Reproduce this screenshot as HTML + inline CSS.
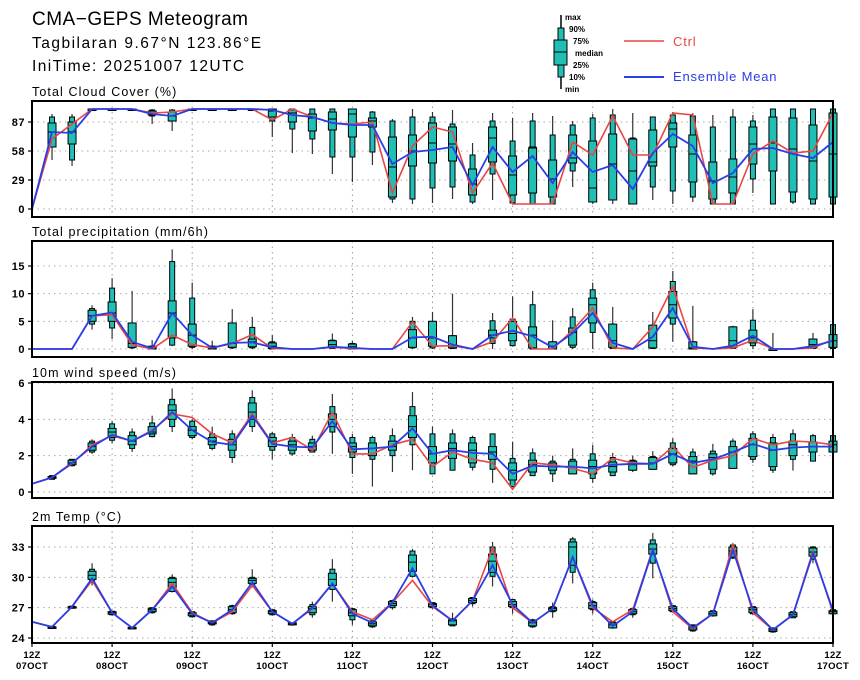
<!DOCTYPE html>
<html><head><meta charset="utf-8"><style>
html,body{margin:0;padding:0;background:#fff;}
svg{display:block;font-family:"Liberation Sans","DejaVu Sans",sans-serif;}
</style></head><body>
<svg id="chart" width="860" height="680" viewBox="0 0 860 680" xmlns="http://www.w3.org/2000/svg">
<g>
<text x="32" y="25" font-size="19" letter-spacing="0.5">CMA−GEPS Meteogram</text>
<text x="32" y="48" font-size="15.5" letter-spacing="1.5">Tagbilaran 9.67°N 123.86°E</text>
<text x="32" y="71" font-size="15.5" letter-spacing="1.4">IniTime: 20251007 12UTC</text>
</g>
<g font-size="8" font-weight="bold">
<line x1="561" y1="15" x2="561" y2="89" stroke="#000" stroke-width="1.5"/>
<rect x="558" y="28" width="6" height="49" fill="#1fbfb5" stroke="#000"/>
<rect x="554" y="40" width="13" height="25" fill="#1fbfb5" stroke="#000"/>
<line x1="554" y1="52" x2="567" y2="52" stroke="#000"/>
<text x="565" y="20">max</text><text x="569" y="32">90%</text><text x="573" y="44">75%</text>
<text x="575" y="56">median</text><text x="573" y="68">25%</text><text x="569" y="80">10%</text><text x="565" y="92">min</text>
<line x1="624" y1="41" x2="664" y2="41" stroke="#e84545" stroke-width="1.5"/>
<text x="673" y="46" font-size="13" font-weight="normal" fill="#e84545" letter-spacing="0.8">Ctrl</text>
<line x1="624" y1="77" x2="664" y2="77" stroke="#2a3ee8" stroke-width="2"/>
<text x="673" y="81" font-size="13" font-weight="normal" fill="#2a3ee8" letter-spacing="0.8">Ensemble Mean</text>
</g>
</svg>
<script>
// ---- Total cloud cover ----
const cc_max=[null,95,95,100,100,100,100,100,100,100,100,100,100,100,100,100,100,98,90,100,97,99,66,96,91,96,93,88,95,100,96,92,97,96,94,100,94,100,100,100,100];
const cc_p90=[null,92,92,100,100,100,99,99,100,100,100,100,100,100,100,100,100,97,88,92,92,85,54,88,68,88,74,84,91,94,71,92,94,93,82,92,88,100,100,100,100];
const cc_p75=[null,86,87,100,100,100,98,97,100,100,100,100,100,99,95,97,100,91,72,74,86,82,40,82,53,61,49,74,68,75,70,79,86,74,47,50,82,92,91,84,96];
const cc_med=[null,77,77,100,100,100,96,93,100,100,100,100,98,96,91,90,95,88,42,58,66,65,25,71,34,62,30,51,21,45,38,47,80,55,28,32,65,66,60,48,55];
const cc_p25=[null,62,65,100,100,100,94,88,100,100,100,100,92,87,78,79,72,82,12,43,46,48,14,47,14,16,12,46,7,9,5,43,62,27,10,16,45,38,17,10,12];
const cc_p10=[null,62,49,100,100,100,93,88,100,100,100,100,88,80,70,52,52,57,10,10,21,22,7,35,6,5,5,38,7,9,5,22,18,12,5,5,30,5,7,5,5];
const cc_min=[null,49,43,100,100,100,85,78,99,100,100,98,72,56,55,35,27,44,6,5,6,10,5,9,6,5,5,22,5,5,5,9,5,7,5,5,16,5,5,5,5];
const cc_ctrl=[0,70,85,100,100,100,96,97,100,100,100,100,89,100,92,86,85,87,16,63,82,77,16,46,5,5,5,67,54,93,54,54,96,94,5,5,55,68,56,58,96];
const cc_mean=[0,77,76,100,100,100,95,93,100,100,100,100,99,94,92,86,84,84,45,57,59,62,24,62,37,53,26,57,37,44,20,56,75,63,26,36,60,61,55,51,67];
const cc_ticks=[0,29,58,87];
// ---- Total precipitation ----
const pr_max=[null,null,null,7.9,12.8,10.5,1.6,18,12,1.5,7.2,5.8,2.5,null,null,2.8,1.4,null,null,5.8,6.7,10,null,6.5,9.5,10.5,5.2,7.4,12,7.6,null,6.7,14.1,7.8,null,4.2,7.2,2.9,null,2.9,4.7];
const pr_p90=[null,null,null,7.3,11,4.7,0.5,15.8,9.2,0.5,4.7,3.9,1.3,null,null,1.6,1,null,null,5,5,2.4,null,5.1,5.4,8,1.3,5.8,10.7,4.5,null,4.3,12.2,1.3,null,4,5.2,0,null,1.8,4.4];
const pr_p75=[null,null,null,7,8.5,4.7,0.5,8.7,4.5,0.5,4.7,1.8,1.1,null,null,1.5,0.9,null,null,3.5,5,2.4,null,3.4,5,4,1.3,3.8,9.2,4.5,null,4.3,10.4,1.3,null,4,3.4,0,null,1.8,2.6];
const pr_med=[null,null,null,6,6.5,1,0.2,6.5,2.5,0.2,1,1.3,0.5,null,null,0.8,0.4,null,null,2,2,0.5,null,2.5,2.8,2.5,0.5,3,8,1.5,null,1.5,8,0.2,null,1.5,2,0,null,0.8,1.5];
const pr_p25=[null,null,null,5,5,0.3,0,2,0.5,0,0.3,0.4,0.1,null,null,0.3,0,null,null,0.3,0.5,0.2,null,2,1.5,0.2,0,0.7,4.7,0.3,null,0.2,5.6,0,null,0.3,1.1,0,null,0.2,0.3];
const pr_p10=[null,null,null,4.5,3.8,0.2,0,0.7,0.3,0,0.2,0.2,0,null,null,0.1,0,null,null,0.2,0.2,0.1,null,1,0.6,0,0,0.3,3,0.1,null,0.1,4.5,0,null,0.1,0.6,0,null,0.1,0.1];
const pr_min=[null,null,null,3.5,1.8,0,0,0.5,0,0,0,0,0,null,null,0,0,null,null,0,0,0,null,0,0.5,0,0,0,0,0,null,0,1.3,0,null,0,0,0,null,0,0];
const pr_ctrl=[0,0,0,6,6.2,0.8,0,2.5,0.8,0.2,1,2.6,0.1,0,0,0.3,0.1,0,0,4.9,0.5,0.6,0,1.3,5.6,0,0,3.4,7.4,0.2,0,4,11.3,0.2,0,0.2,1.6,0,0,0.2,1.7];
const pr_mean=[0,0,0,6,6.6,1.3,0.1,6.5,2.5,0.2,1.1,1.2,0.3,0,0,0.4,0.2,0,0,2.1,2.2,0.8,0,2.5,3.3,2.3,0.3,2.9,6.5,1.1,0,2.2,7.4,0.4,0,0.6,2.4,0,0,0.5,1.5];
const pr_ticks=[0,5,10,15];
// ---- 10m wind speed ----
const wd_max=[null,0.9,1.8,2.9,3.9,3.5,4.2,5.7,4.0,3.6,3.4,5.6,3.3,3.2,3.1,5.4,3.2,3.1,3.5,5.5,3.6,3.45,3.1,3.2,2.77,2.4,2.0,2.4,2.6,2.15,2.0,2.25,2.95,2.4,2.65,2.95,3.35,3.2,3.45,3.2,3.3];
const wd_p90=[null,0.9,1.8,2.8,3.75,3.3,3.8,5.1,3.9,3.2,3.2,5.2,3.2,3.0,2.9,4.7,3.0,3.0,3.1,4.7,3.2,3.2,3.0,3.2,1.85,2.15,1.7,1.8,2.1,1.9,1.75,1.95,2.7,2.2,2.25,2.8,3.2,3.0,3.2,3.1,3.1];
const wd_p75=[null,0.85,1.75,2.7,3.5,3.1,3.6,4.8,3.6,3.0,2.9,4.9,3.0,2.8,2.7,4.3,2.7,2.7,2.8,4.2,2.5,2.7,2.7,2.5,1.6,1.75,1.6,1.7,1.75,1.65,1.7,1.9,2.4,1.95,2.1,2.5,2.95,2.7,2.8,2.75,2.8];
const wd_med=[null,0.8,1.6,2.5,3.3,2.8,3.3,4.5,3.4,2.8,2.6,4.4,2.8,2.6,2.5,4.0,2.5,2.4,2.5,3.6,2.1,2.4,2.3,2.2,1.2,1.5,1.4,1.4,1.4,1.4,1.5,1.6,2.1,1.7,1.9,2.2,2.6,2.3,2.6,2.5,2.6];
const wd_p25=[null,0.75,1.5,2.3,3.0,2.6,3.2,4.0,3.1,2.6,2.3,4.0,2.5,2.3,2.3,3.6,2.2,2.0,2.3,3.0,1.6,1.85,1.6,1.8,0.66,1.1,1.2,1.0,1.0,1.1,1.2,1.25,1.6,1.0,1.25,1.3,1.95,1.4,2.0,2.2,2.2];
const wd_p10=[null,0.7,1.45,2.2,2.85,2.4,3.05,3.6,3.0,2.4,1.9,3.6,2.3,2.1,2.2,3.3,1.9,1.8,2.0,2.6,1.0,1.2,1.36,1.25,0.3,0.9,1.0,1.0,0.75,0.9,1.2,1.25,1.5,1.0,1.0,1.3,1.8,1.2,1.8,1.7,2.2];
const wd_min=[null,0.7,1.4,2.1,2.7,2.2,3.0,3.3,2.9,2.3,1.6,3.3,1.8,2.0,2.2,2.1,1.0,0.3,1.1,1.2,1.0,1.2,1.18,0.5,0.3,0.9,0.55,1.0,0.5,0.9,1.1,1.25,1.4,1.0,0.9,1.3,1.6,1.05,1.18,1.7,2.2];
const wd_ctrl=[0.45,0.8,1.55,2.6,3.1,2.8,3.4,4.3,4.1,3.2,2.7,4.3,2.7,3.0,2.3,4.4,2.1,2.1,2.6,2.9,1.4,2.2,1.8,1.6,0.15,1.6,1.5,1.3,1.0,1.85,1.6,1.55,2.5,1.35,1.75,2.0,2.95,2.6,2.8,2.75,2.6];
const wd_mean=[0.45,0.8,1.6,2.5,3.15,2.8,3.35,4.4,3.4,2.75,2.6,4.2,2.65,2.5,2.45,3.9,2.35,2.4,2.5,3.5,2.1,2.3,2.15,2.1,1.0,1.45,1.4,1.4,1.3,1.5,1.55,1.55,2.1,1.6,1.8,2.2,2.65,2.3,2.45,2.5,2.5];
const wd_ticks=[0,2,4,6];
// ---- 2m temperature ----
const tp_max=[null,25.2,27.2,31.4,26.7,25.1,27.0,30.3,26.6,25.7,27.3,30.8,26.8,25.5,27.6,31.8,27.0,25.7,27.8,32.8,27.5,26.5,28.0,33.5,27.8,25.9,27.5,34.0,27.8,25.6,26.9,34.4,27.2,25.3,26.7,33.4,27.1,25.0,26.6,33.1,26.8];
const tp_p90=[null,25.15,27.15,30.8,26.65,25.1,27.0,30.0,26.6,25.7,27.2,30.0,26.8,25.5,27.3,30.8,26.9,25.7,27.7,32.6,27.5,25.9,28.0,33.0,27.8,25.8,27.1,33.8,27.6,25.6,26.9,33.7,27.2,25.3,26.7,33.2,27.1,25.0,26.6,33.0,26.8];
const tp_p75=[null,25.1,27.1,30.6,26.6,25.05,26.9,29.9,26.5,25.6,27.1,29.9,26.7,25.5,27.1,30.4,26.8,25.6,27.6,32.2,27.4,25.8,27.9,32.3,27.6,25.7,27.0,33.5,27.5,25.5,26.8,33.3,27.1,25.2,26.6,33.0,27.0,24.95,26.5,32.9,26.7];
const tp_med=[null,25.05,27.05,30.2,26.5,25.0,26.8,29.5,26.4,25.5,26.8,29.7,26.6,25.4,26.9,29.8,26.5,25.4,27.4,31.5,27.3,25.7,27.7,31.6,27.3,25.5,26.9,33.0,27.2,25.3,26.6,32.8,26.9,25.0,26.4,32.6,26.8,24.8,26.3,32.5,26.6];
const tp_p25=[null,25.0,27.0,29.8,26.35,24.95,26.6,29.0,26.2,25.4,26.5,29.4,26.4,25.3,26.5,29.2,26.2,25.2,27.2,30.6,27.1,25.3,27.5,30.5,27.1,25.2,26.7,31.2,26.9,25.0,26.4,32.3,26.7,24.8,26.2,32.0,26.5,24.65,26.1,32.1,26.4];
const tp_p10=[null,24.95,26.95,29.6,26.3,24.9,26.5,28.6,26.1,25.3,26.4,29.3,26.3,25.3,26.3,28.8,25.8,25.1,27.0,30.1,27.0,25.2,27.4,30.1,27.0,25.1,26.6,30.5,26.8,25.0,26.3,31.4,26.6,24.7,26.2,31.9,26.4,24.6,26.0,31.8,26.4];
const tp_min=[null,24.9,26.9,29.2,26.2,24.9,26.4,28.5,26.0,25.2,26.3,29.0,26.2,25.2,26.0,27.6,25.3,25.0,26.8,30.0,26.9,25.2,27.1,29.1,26.4,25.0,26.0,29.4,26.4,24.9,26.0,29.9,26.5,24.6,26.1,31.8,26.3,24.5,26.0,31.4,26.3];
const tp_ctrl=[25.6,25.1,27.1,29.7,26.5,25.0,26.8,29.4,26.5,25.5,26.6,29.2,26.6,25.4,26.9,29.4,26.6,25.8,27.5,29.7,27.1,25.7,27.7,32.9,27.0,25.5,26.9,32.0,27.0,25.6,26.8,32.8,26.6,24.9,26.4,33.2,26.5,24.8,26.3,32.6,26.5];
const tp_mean=[25.6,25.1,27.1,29.9,26.5,25.0,26.8,29.1,26.4,25.5,26.8,29.5,26.6,25.4,27.0,29.4,26.4,25.5,27.5,30.9,27.2,25.7,27.7,31.2,27.3,25.5,26.9,32.0,27.2,25.2,26.6,32.7,26.9,25.0,26.4,32.7,26.8,24.8,26.3,32.4,26.7];
const tp_ticks=[24,27,30,33];
// ---- time axis ----
const dayLabels=["07OCT","08OCT","09OCT","10OCT","11OCT","12OCT","13OCT","14OCT","15OCT","16OCT","17OCT"];

const NS="http://www.w3.org/2000/svg";
const svg=document.getElementById('chart');
const X0=32,X1=833,NSTEP=40;
function xScale(i){return X0+(X1-X0)*i/NSTEP;}
function mk(tag,attrs,parent){const e=document.createElementNS(NS,tag);for(const k in attrs)e.setAttribute(k,attrs[k]);(parent||svg).appendChild(e);return e;}

function panel(cfg){
  const g=mk('g',{});
  
  
  const y=v=>cfg.y0pix+(v-cfg.v0)*(cfg.y1pix-cfg.y0pix)/(cfg.v1-cfg.v0);
  const t=mk('text',{x:32,y:cfg.top-5,'font-size':12.5,'letter-spacing':1.1},g);
  
  
  t.textContent=cfg.title;
  for(let d=1;d<dayLabels.length-1;d++){
    const gl=mk('line',{x1:xScale(d*4),x2:xScale(d*4),y1:cfg.top,y2:cfg.bottom,stroke:'#999','stroke-dasharray':'1.5,4','stroke-width':1},g);
    
    
  }
  cfg.ticks.forEach(v=>{
    const gl=mk('line',{x1:X0,x2:X1,y1:y(v),y2:y(v),stroke:'#aaa','stroke-dasharray':'1.5,4','stroke-width':1},g);
    
    
    mk('line',{x1:X0-4,x2:X0,y1:y(v),y2:y(v),stroke:'#000','stroke-width':1.2},g);
    const tl=mk('text',{x:X0-7,y:y(v)+4,'font-size':11,'font-weight':'bold','text-anchor':'end','letter-spacing':0.5},g);
    
    
    tl.textContent=v;
  });
  const D=cfg.d;
  for(let i=0;i<=NSTEP;i++){
    if(D.max[i]==null)continue;
    const x=xScale(i);
    const bg=mk('g',{},g);
    
    
    mk('line',{x1:x,x2:x,y1:y(D.max[i]),y2:y(D.min[i]),stroke:'#333','stroke-width':1.2},bg);
    const h1=Math.max(1.5,y(D.p10[i])-y(D.p90[i]));
    mk('rect',{x:x-2.5,y:y(D.p90[i]),width:5,height:h1,fill:'#1fbfb5',stroke:'#000','stroke-width':1},bg);
    const h2=Math.max(1.5,y(D.p25[i])-y(D.p75[i]));
    mk('rect',{x:x-4,y:y(D.p75[i]),width:8,height:h2,fill:'#1fbfb5',stroke:'#000','stroke-width':1},bg);
    mk('line',{x1:x-4,x2:x+4,y1:y(D.med[i]),y2:y(D.med[i]),stroke:'#000','stroke-width':1},bg);
  }
  const pts=a=>a.map((v,i)=>xScale(i).toFixed(1)+','+y(v).toFixed(1)).join(' ');
  const lc=mk('polyline',{points:pts(D.ctrl),fill:'none',stroke:'#e84545','stroke-width':1.6},g);
  
  
  const lm=mk('polyline',{points:pts(D.mean),fill:'none',stroke:'#2a3ee8','stroke-width':1.8},g);
  
  
  const fr=mk('rect',{x:X0,y:cfg.top,width:X1-X0,height:cfg.bottom-cfg.top,fill:'none',stroke:'#000','stroke-width':2},g);
  
  
  return g;
}

panel({name:'cloud-cover-panel',title:'Total Cloud Cover (%)',top:101,bottom:217,v0:0,v1:87,y0pix:209,y1pix:122,ticks:cc_ticks,
  d:{max:cc_max,p90:cc_p90,p75:cc_p75,med:cc_med,p25:cc_p25,p10:cc_p10,min:cc_min,ctrl:cc_ctrl,mean:cc_mean}});
panel({name:'precipitation-panel',title:'Total precipitation (mm/6h)',top:241,bottom:357,v0:0,v1:15,y0pix:349,y1pix:266,ticks:pr_ticks,
  d:{max:pr_max,p90:pr_p90,p75:pr_p75,med:pr_med,p25:pr_p25,p10:pr_p10,min:pr_min,ctrl:pr_ctrl,mean:pr_mean}});
panel({name:'wind-speed-panel',title:'10m wind speed (m/s)',top:382,bottom:498,v0:0,v1:6,y0pix:492,y1pix:383,ticks:wd_ticks,
  d:{max:wd_max,p90:wd_p90,p75:wd_p75,med:wd_med,p25:wd_p25,p10:wd_p10,min:wd_min,ctrl:wd_ctrl,mean:wd_mean}});
panel({name:'temperature-panel',title:'2m Temp (°C)',top:526,bottom:643,v0:24,v1:33,y0pix:638,y1pix:547,ticks:tp_ticks,
  d:{max:tp_max,p90:tp_p90,p75:tp_p75,med:tp_med,p25:tp_p25,p10:tp_p10,min:tp_min,ctrl:tp_ctrl,mean:tp_mean}});

const xg=mk('g',{'font-size':9.5,'font-weight':'bold','text-anchor':'middle','letter-spacing':0.3});


dayLabels.forEach((lab,d)=>{
  const x=xScale(d*4);
  mk('line',{x1:x,x2:x,y1:643,y2:647,stroke:'#000','stroke-width':1.2},xg);
  const t1=mk('text',{x:x,y:658},xg);
  
  
  t1.textContent='12Z';
  const t2=mk('text',{x:x,y:669},xg);
  
  
  t2.textContent=lab;
});
</script>
</body></html>
